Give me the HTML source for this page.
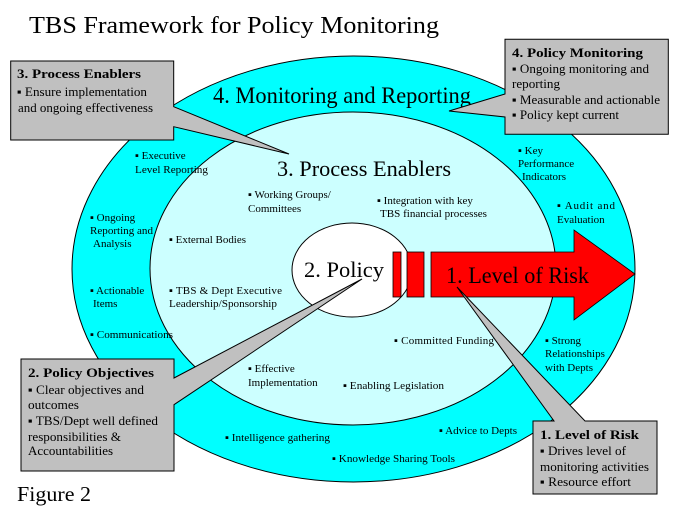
<!DOCTYPE html>
<html><head><meta charset="utf-8"><style>
html,body{margin:0;padding:0;background:#fff;}
svg{display:block;font-family:"Liberation Serif","Times New Roman",serif;}
svg text{font-family:"Liberation Serif","Times New Roman",serif;fill:#000;}
.s{font-size:11px;}
.b{font-size:12.5px;}
.bt{font-size:13px;font-weight:bold;}
</style></head><body>
<svg width="684" height="518" viewBox="0 0 684 518" xmlns="http://www.w3.org/2000/svg" font-family="Liberation Serif, serif">
<rect width="684" height="518" fill="#fff"/>
<text x="29" y="33" font-size="24" font-family="Liberation Serif, serif" textLength="410" lengthAdjust="spacingAndGlyphs">TBS Framework for Policy Monitoring</text>
<text x="17" y="501" font-size="21" font-family="Liberation Serif, serif" textLength="74" lengthAdjust="spacingAndGlyphs">Figure 2</text>

<ellipse cx="353.5" cy="269" rx="281.5" ry="213" fill="#00ffff" stroke="#000" stroke-width="1"/>
<ellipse cx="353" cy="268.5" rx="203" ry="156.5" fill="#ccffff" stroke="#000" stroke-width="1"/>
<ellipse cx="352" cy="270" rx="60" ry="47" fill="#fff" stroke="#000" stroke-width="1"/>

<rect x="393" y="252" width="8" height="45" fill="#f00" stroke="#000" stroke-width="0.8"/>
<rect x="407" y="252" width="17" height="45" fill="#f00" stroke="#000" stroke-width="0.8"/>
<polygon points="431,252 574,252 574,230 635,274 574,320 574,297 431,297" fill="#f00" stroke="#000" stroke-width="0.8"/>

<text x="213" y="103" font-size="23" font-family="Liberation Serif, serif" textLength="258" lengthAdjust="spacingAndGlyphs">4. Monitoring and Reporting</text>
<text x="277" y="176" font-size="22" font-family="Liberation Serif, serif" textLength="174" lengthAdjust="spacingAndGlyphs">3. Process Enablers</text>
<text x="304" y="277" font-size="22" font-family="Liberation Serif, serif" textLength="80" lengthAdjust="spacingAndGlyphs">2. Policy</text>
<text x="446" y="283" font-size="23" font-family="Liberation Serif, serif" textLength="143" lengthAdjust="spacingAndGlyphs">1. Level of Risk</text>

<!-- small labels -->
<text class="s" x="135" y="159">▪ Executive</text>
<text class="s" x="135" y="173" textLength="73" lengthAdjust="spacingAndGlyphs">Level Reporting</text>
<text class="s" x="248" y="198">▪ Working Groups/</text>
<text class="s" x="248" y="212">Committees</text>
<text class="s" x="90" y="221">▪ Ongoing</text>
<text class="s" x="90" y="234" textLength="63" lengthAdjust="spacingAndGlyphs">Reporting and</text>
<text class="s" x="93" y="247">Analysis</text>
<text class="s" x="169" y="243" textLength="77" lengthAdjust="spacingAndGlyphs">▪ External Bodies</text>
<text class="s" x="377" y="204">▪ Integration with key</text>
<text class="s" x="380" y="217" textLength="107" lengthAdjust="spacingAndGlyphs">TBS  financial processes</text>
<text class="s" x="518" y="154">▪ Key</text>
<text class="s" x="518" y="167">Performance</text>
<text class="s" x="522" y="180">Indicators</text>
<text class="s" x="557" y="209" textLength="58" lengthAdjust="spacing">▪ Audit  and</text>
<text class="s" x="557" y="223">Evaluation</text>
<text class="s" x="90" y="294">▪ Actionable</text>
<text class="s" x="93" y="307">Items</text>
<text class="s" x="169" y="294" textLength="113" lengthAdjust="spacing">▪ TBS  &amp; Dept  Executive</text>
<text class="s" x="169" y="307" textLength="108" lengthAdjust="spacingAndGlyphs">Leadership/Sponsorship</text>
<text class="s" x="90" y="338" textLength="83" lengthAdjust="spacingAndGlyphs">▪ Communications</text>
<text class="s" x="248" y="372">▪ Effective</text>
<text class="s" x="248" y="386">Implementation</text>
<text class="s" x="394" y="344" textLength="100" lengthAdjust="spacing">▪ Committed  Funding</text>
<text class="s" x="343" y="389" textLength="101" lengthAdjust="spacingAndGlyphs">▪ Enabling Legislation</text>
<text class="s" x="545" y="344">▪ Strong</text>
<text class="s" x="545" y="357">Relationships</text>
<text class="s" x="545" y="371">with Depts</text>
<text class="s" x="225" y="441" textLength="105" lengthAdjust="spacingAndGlyphs">▪ Intelligence gathering</text>
<text class="s" x="332" y="462" textLength="123" lengthAdjust="spacingAndGlyphs">▪ Knowledge Sharing Tools</text>
<text class="s" x="439" y="434" textLength="78" lengthAdjust="spacingAndGlyphs">▪ Advice to Depts</text>

<!-- callouts -->
<path d="M10.7,61 H173.7 V106.7 L289,154 L173.7,126.7 V140 H10.7 Z" fill="#c0c0c0" stroke="#000" stroke-width="1"/>
<text class="bt" x="17" y="78" textLength="124" lengthAdjust="spacingAndGlyphs">3. Process Enablers</text>
<text class="b" x="17" y="96" textLength="130" lengthAdjust="spacingAndGlyphs">▪ Ensure implementation</text>
<text class="b" x="18" y="112" textLength="135" lengthAdjust="spacingAndGlyphs">and ongoing effectiveness</text>

<path d="M505,39.3 H668.3 V134.3 H505 V117 L449,111 L505,94 Z" fill="#c0c0c0" stroke="#000" stroke-width="1"/>
<text class="bt" x="512" y="57" textLength="131" lengthAdjust="spacingAndGlyphs">4. Policy Monitoring</text>
<text class="b" x="512" y="73" textLength="137" lengthAdjust="spacingAndGlyphs">▪ Ongoing monitoring and</text>
<text class="b" x="512" y="88" textLength="48" lengthAdjust="spacingAndGlyphs">reporting</text>
<text class="b" x="512" y="104" textLength="148" lengthAdjust="spacingAndGlyphs">▪ Measurable and actionable</text>
<text class="b" x="512" y="119" textLength="107" lengthAdjust="spacingAndGlyphs">▪ Policy kept current</text>

<path d="M21,359 H174 V378 L362,279 L174,404.7 V471 H21 Z" fill="#c0c0c0" stroke="#000" stroke-width="1"/>
<text class="bt" x="28" y="377" textLength="126" lengthAdjust="spacingAndGlyphs">2. Policy Objectives</text>
<text class="b" x="28" y="394" textLength="116" lengthAdjust="spacingAndGlyphs">▪ Clear objectives and</text>
<text class="b" x="28" y="409" textLength="51" lengthAdjust="spacingAndGlyphs">outcomes</text>
<text class="b" x="28" y="425" textLength="130" lengthAdjust="spacingAndGlyphs">▪ TBS/Dept well defined</text>
<text class="b" x="28" y="441" textLength="93" lengthAdjust="spacingAndGlyphs">responsibilities &amp;</text>
<text class="b" x="28" y="455" textLength="85" lengthAdjust="spacingAndGlyphs">Accountabilities</text>

<path d="M533,421 H554 L457,287 L585,421 H657 V494 H533 Z" fill="#c0c0c0" stroke="#000" stroke-width="1"/>
<text class="bt" x="540" y="439" textLength="99" lengthAdjust="spacingAndGlyphs">1. Level of Risk</text>
<text class="b" x="540" y="455" textLength="86" lengthAdjust="spacingAndGlyphs">▪ Drives level of</text>
<text class="b" x="540" y="471" textLength="109" lengthAdjust="spacingAndGlyphs">monitoring activities</text>
<text class="b" x="540" y="486" textLength="91" lengthAdjust="spacingAndGlyphs">▪ Resource effort</text>
</svg>
</body></html>
